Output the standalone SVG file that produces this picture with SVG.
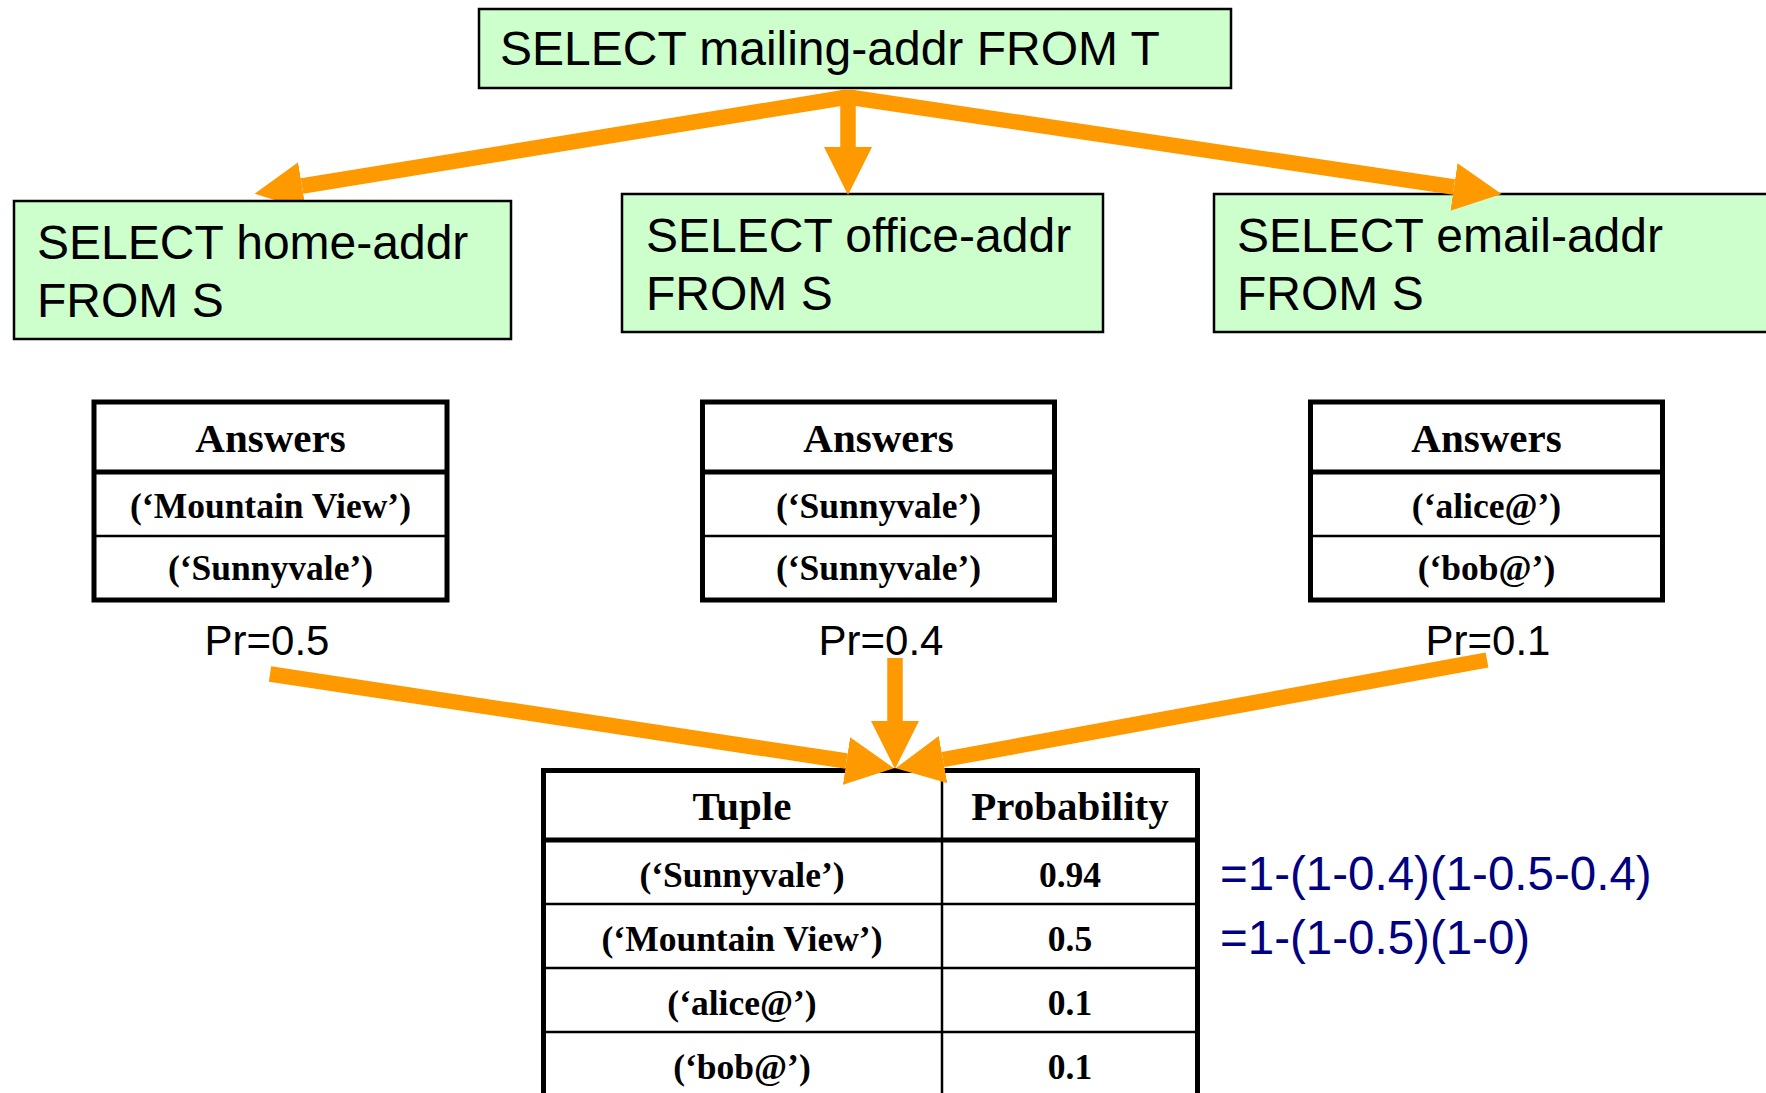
<svg xmlns="http://www.w3.org/2000/svg" width="1766" height="1093" viewBox="0 0 1766 1093">
<defs>
<style>
.q{fill:#CCFFCC;stroke:#000;stroke-width:2.5}
.qt{font-family:"Liberation Sans",Arial,sans-serif;font-size:48px;fill:#000}
.tb{fill:#fff;stroke:#000;stroke-width:5}
.thick{stroke:#000;stroke-width:5}
.thin{stroke:#000;stroke-width:2.5}
.th{font-family:"Liberation Serif","Times New Roman",serif;font-weight:bold;font-size:41px;text-anchor:middle;fill:#000}
.td{font-family:"Liberation Serif","Times New Roman",serif;font-weight:bold;font-size:35.5px;text-anchor:middle;fill:#000}
.pr{font-family:"Liberation Sans",Arial,sans-serif;font-size:42px;text-anchor:middle;fill:#000}
.fm{font-family:"Liberation Sans",Arial,sans-serif;font-size:47.5px;fill:#000080}
.arr{stroke:#FF9900;stroke-width:15.5;fill:none;marker-end:url(#head)}
</style>
<marker id="head" markerUnits="userSpaceOnUse" markerWidth="50" markerHeight="50" viewBox="0 -25 50 50" refX="0" refY="0" orient="auto">
<path d="M0,-24 L48,0 L0,24 Z" fill="#FF9900"/>
</marker>
</defs>
<rect width="1766" height="1093" fill="#fff"/>

<g id="q-top">
<rect class="q" x="479" y="9" width="752" height="79"/>
<text class="qt" x="500" y="65">SELECT mailing-addr FROM T</text>
</g>

<g id="q-office">
<rect class="q" x="622" y="194" width="481" height="138"/>
<text class="qt" x="646" y="252">SELECT office-addr</text>
<text class="qt" x="646" y="310">FROM S</text>
</g>

<g id="q-email">
<rect class="q" x="1214" y="194" width="570" height="138"/>
<text class="qt" x="1237" y="252">SELECT email-addr</text>
<text class="qt" x="1237" y="310">FROM S</text>
</g>

<g id="ans-home">
<rect class="tb" x="94" y="402" width="353" height="198"/>
<line class="thick" x1="94" y1="472" x2="447" y2="472"/>
<line class="thin" x1="94" y1="536" x2="447" y2="536"/>
<text class="th" x="270.5" y="452">Answers</text>
<text class="td" x="270.5" y="518">(‘Mountain View’)</text>
<text class="td" x="270.5" y="580">(‘Sunnyvale’)</text>
<text class="pr" x="267" y="655">Pr=0.5</text>
</g>

<g id="ans-office">
<rect class="tb" x="702.5" y="402" width="352" height="198"/>
<line class="thick" x1="702.5" y1="472" x2="1054.5" y2="472"/>
<line class="thin" x1="702.5" y1="536" x2="1054.5" y2="536"/>
<text class="th" x="878.5" y="452">Answers</text>
<text class="td" x="878.5" y="518">(‘Sunnyvale’)</text>
<text class="td" x="878.5" y="580">(‘Sunnyvale’)</text>
<text class="pr" x="881" y="655">Pr=0.4</text>
</g>

<g id="ans-email">
<rect class="tb" x="1310.5" y="402" width="352" height="198"/>
<line class="thick" x1="1310.5" y1="472" x2="1662.5" y2="472"/>
<line class="thin" x1="1310.5" y1="536" x2="1662.5" y2="536"/>
<text class="th" x="1486.5" y="452">Answers</text>
<text class="td" x="1486.5" y="518">(‘alice@’)</text>
<text class="td" x="1486.5" y="580">(‘bob@’)</text>
<text class="pr" x="1488" y="655">Pr=0.1</text>
</g>

<g id="result">
<rect class="tb" x="543.5" y="770.5" width="654" height="325"/>
<line class="thin" x1="942" y1="770" x2="942" y2="1093"/>
<line class="thick" x1="543.5" y1="840" x2="1197.5" y2="840"/>
<line class="thin" x1="543.5" y1="904" x2="1197.5" y2="904"/>
<line class="thin" x1="543.5" y1="968" x2="1197.5" y2="968"/>
<line class="thin" x1="543.5" y1="1032" x2="1197.5" y2="1032"/>
<text class="th" x="742" y="820">Tuple</text>
<text class="th" x="1070" y="820">Probability</text>
<text class="td" x="742" y="887">(‘Sunnyvale’)</text>
<text class="td" x="1070" y="887">0.94</text>
<text class="td" x="742" y="951">(‘Mountain View’)</text>
<text class="td" x="1070" y="951">0.5</text>
<text class="td" x="742" y="1015">(‘alice@’)</text>
<text class="td" x="1070" y="1015">0.1</text>
<text class="td" x="742" y="1079">(‘bob@’)</text>
<text class="td" x="1070" y="1079">0.1</text>
</g>

<g id="formulas">
<text class="fm" x="1220" y="890">=1-(1-0.4)(1-0.5-0.4)</text>
<text class="fm" x="1220" y="954">=1-(1-0.5)(1-0)</text>
</g>

<g id="connectors">
<line class="arr" x1="848" y1="97" x2="302" y2="186"/>
<line class="arr" x1="848" y1="90" x2="848" y2="147"/>
<line class="arr" x1="848" y1="97" x2="1454" y2="187"/>
<line class="arr" x1="270" y1="674" x2="846.5" y2="761"/>
<line class="arr" x1="895" y1="658" x2="895" y2="721"/>
<line class="arr" x1="1487" y1="660" x2="943" y2="759.5"/>
</g>

<g id="q-home">
<rect class="q" x="14" y="201" width="497" height="138"/>
<text class="qt" x="37" y="259">SELECT home-addr</text>
<text class="qt" x="37" y="317">FROM S</text>
</g>
</svg>
